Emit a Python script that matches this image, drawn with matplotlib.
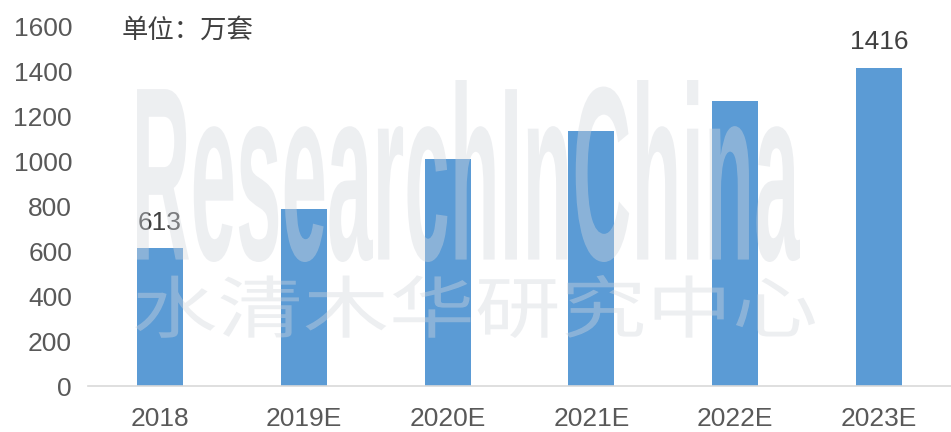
import matplotlib
matplotlib.use("Agg")
import matplotlib.pyplot as plt
from matplotlib.textpath import TextPath
from matplotlib.patches import PathPatch
from matplotlib.font_manager import FontProperties
from matplotlib.transforms import Affine2D, IdentityTransform

plt.rcParams['font.family'] = ['Liberation Sans', 'Noto Sans CJK SC', 'DejaVu Sans']

years = ['2018', '2019E', '2020E', '2021E', '2022E', '2023E']
sales = [613, 789, 1010, 1135, 1268, 1416]
shown_labels = {0: '613', 5: '1416'}
yticks = [0, 200, 400, 600, 800, 1000, 1200, 1400, 1600]

W, H = 951, 432
fig = plt.figure(figsize=(W / 100, H / 100), dpi=100)
ax = fig.add_axes([88 / W, 1 - 386 / H, 863 / W, (386 - 27) / H])

x = list(range(len(years)))
ax.bar(x, sales, width=0.32, color='#5B9BD5', zorder=2)
ax.set_xlim(-0.5, 5.5)
ax.set_ylim(0, 1600)
ax.set_xticks(x)
ax.set_xticklabels(years, fontsize=19, color='#595959')
ax.set_yticks(yticks)
ax.set_yticklabels([str(v) for v in yticks], fontsize=19, color='#595959')
ax.tick_params(axis='both', length=0)
ax.tick_params(axis='x', pad=15)
ax.tick_params(axis='y', pad=11.5)
for s in ['top', 'right', 'left']:
    ax.spines[s].set_visible(False)
ax.spines['bottom'].set_color('#D9D9D9')
ax.spines['bottom'].set_linewidth(1.2)

for i, lab in shown_labels.items():
    ax.text(i, sales[i] + 62, lab, ha='center', va='bottom', fontsize=19,
            color='#404040')

fig.text(122 / W, 1 - 30 / H, '单位：万套', fontsize=19, color='#404040',
         ha='left', va='center', family=['Noto Sans CJK SC'])


def watermark(text, box, props, color, alpha):
    # box in image pixels: x0, y0 (top), x1, y1 (bottom)
    x0, y0, x1, y1 = box
    tp = TextPath((0, 0), text, size=100, prop=props)
    ext = tp.get_extents()
    sx = (x1 - x0) / ext.width
    sy = (y1 - y0) / ext.height
    tr = Affine2D().translate(-ext.x0, -ext.y0).scale(sx, sy).translate(x0, H - y1)
    patch = PathPatch(tr.transform_path(tp), facecolor=color, edgecolor='none',
                      alpha=alpha, transform=IdentityTransform(), zorder=5)
    fig.add_artist(patch)


watermark('ResearchInChina', (137, 80, 800, 262),
          FontProperties(family='Liberation Sans', weight='bold'), '#D3D7DD', 0.4)
watermark('水清木华研究中心', (135, 275, 815, 338),
          FontProperties(family='Noto Sans CJK SC', weight='light'), '#D3D7DD', 0.4)

fig.savefig('out.png', dpi=100)
